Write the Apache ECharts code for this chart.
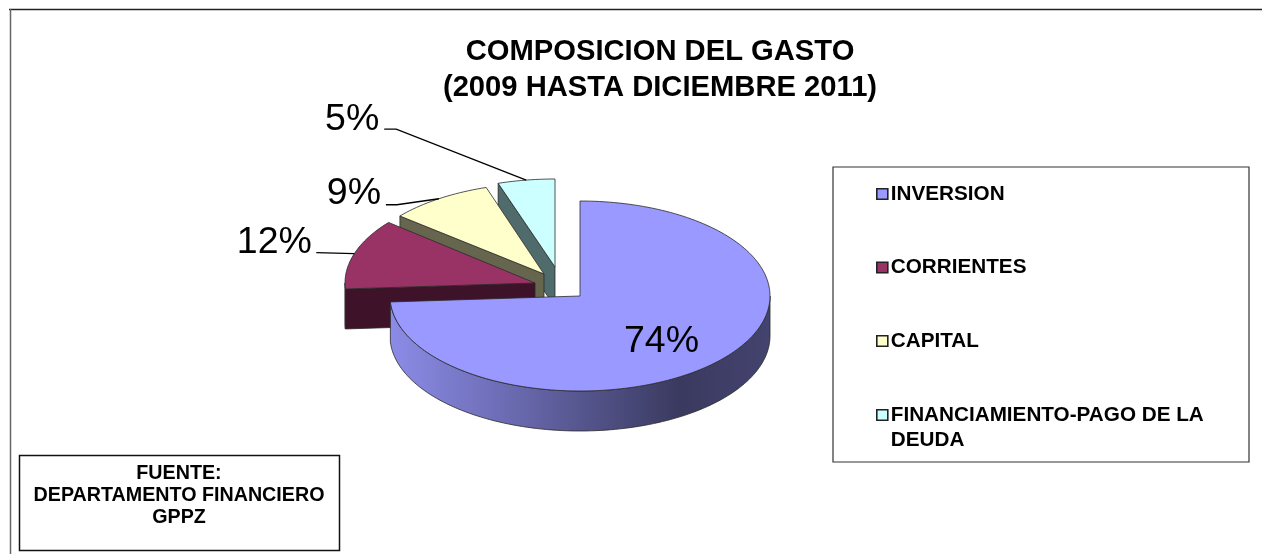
<!DOCTYPE html>
<html>
<head>
<meta charset="utf-8">
<title>Composicion del gasto</title>
<script src="https://cdn.jsdelivr.net/npm/echarts@6/dist/echarts.min.js"></script>
<style>
  html, body { margin: 0; padding: 0; background: #fff; }
  #chart { width: 1262px; height: 554px; }
</style>
</head>
<body>
<div id="chart"></div>
<script>
const categories = ['INVERSION', 'CORRIENTES', 'CAPITAL', 'FINANCIAMIENTO-PAGO DE LA DEUDA']
const shares = [74, 12, 9, 5]
const topColors = ['#9999ff', '#993366', '#ffffcc', '#ccffff']
const wallColors = ['#3c3c64', '#3e1229', '#66664f', '#506b6b']

// Where each exploded slice sits. Farther slices get a smaller ellipse, Excel's
// perspective does that.
const apexes = [[580, 296], [535, 283], [544, 274], [555, 267]]
const radiusX = [190, 190, 187, 184]
const radiusY = [95, 95, 91, 88]
const depth = 40

// Label centre and leader line, both relative to the point on the rim at mid-slice.
const labelShift = [[-57, -19], [-80, -11], [-85, -5], [-174, -60]]
const leaderShift = [null, [[-38, -1]], [[-53, 6], [-42, 6]], [[-142, -51], [-130, -51]]]

const FONT = '"Liberation Sans", Arial, sans-serif'
const total = shares.reduce((a, b) => a + b, 0)

function sliceAngles(i) {
  let before = 0
  for (let k = 0; k < i; k++) before += shares[k]
  return [before / total * 360, (before + shares[i]) / total * 360]
}

function rimPoint(i, deg, drop) {
  const rad = deg * Math.PI / 180
  return [
    apexes[i][0] + radiusX[i] * Math.sin(rad),
    apexes[i][1] - radiusY[i] * Math.cos(rad) + (drop || 0),
  ]
}

function arcPoints(i, from, to, drop) {
  const pts = []
  const steps = Math.max(2, Math.ceil((to - from) / 1.5))
  for (let s = 0; s <= steps; s++) pts.push(rimPoint(i, from + (to - from) * s / steps, drop))
  return pts
}

function renderSlice(i) {
  return function () {
    const [start, end] = sliceAngles(i)
    const apex = apexes[i]
    const children = []
    const edge = { stroke: '#2a2a2a', lineWidth: 0.8 }

    // cut face, only the exploded slices show theirs
    if (i > 0) {
      const corner = rimPoint(i, start)
      children.push({
        type: 'polygon',
        shape: { points: [corner, apex, [apex[0], apex[1] + depth], [corner[0], corner[1] + depth]] },
        style: { fill: wallColors[i], ...edge },
      })
    }

    // front rim
    const rimFrom = Math.max(start, 90)
    const rimTo = Math.min(end, 270)
    if (rimTo > rimFrom) {
      const fill = i === 0
        ? new echarts.graphic.LinearGradient(390, 0, 770, 0, [
            { offset: 0, color: '#8c8ce8' },
            { offset: 0.3, color: '#6c6cb4' },
            { offset: 0.5, color: '#56568f' },
            { offset: 0.76, color: '#3a3a60' },
            { offset: 1, color: '#43436f' },
          ], true)
        : wallColors[i]
      children.push({
        type: 'polygon',
        shape: { points: arcPoints(i, rimFrom, rimTo).concat(arcPoints(i, rimFrom, rimTo, depth).reverse()) },
        style: { fill, ...edge },
      })
    }

    // top face
    children.push({
      type: 'polygon',
      shape: { points: [apex].concat(arcPoints(i, start, end)) },
      style: { fill: topColors[i], ...edge },
    })

    const anchor = rimPoint(i, (start + end) / 2)
    if (leaderShift[i]) {
      const line = leaderShift[i].map((d) => [anchor[0] + d[0], anchor[1] + d[1]])
      line.push(anchor)
      children.push({
        type: 'polyline',
        shape: { points: line },
        style: { stroke: '#000', lineWidth: 1.3, fill: 'none' },
      })
    }
    children.push({
      type: 'text',
      style: {
        text: shares[i] + '%',
        x: anchor[0] + labelShift[i][0],
        y: anchor[1] + labelShift[i][1],
        align: 'center',
        verticalAlign: 'middle',
        fill: '#000',
        font: '37.5px ' + FONT,
      },
    })
    return { type: 'group', children }
  }
}

function boxRect(x, y, width, height, stroke, lineWidth) {
  return {
    type: 'rect',
    shape: { x, y, width, height },
    style: { fill: '#fff', stroke, lineWidth },
    z: 0,
  }
}

const legendBase = {
  orient: 'vertical',
  left: 876,
  padding: 0,
  itemWidth: 11,
  itemHeight: 10.5,
  icon: 'rect',
  selectedMode: false,
  itemStyle: { borderColor: '#222', borderWidth: 1.6 },
  textStyle: { fontFamily: FONT, fontSize: 20.7, fontWeight: 'bold', color: '#000', lineHeight: 25, padding: [0, 0, 0, -2] },
}

const chart = echarts.init(document.getElementById('chart'), null, { renderer: 'canvas' })

chart.setOption({
  animation: false,
  backgroundColor: '#fff',
  title: {
    text: 'COMPOSICION DEL GASTO\n(2009 HASTA DICIEMBRE 2011)',
    left: 655,
    top: 29,
    textAlign: 'center',
    textStyle: { fontFamily: FONT, fontSize: 29.2, fontWeight: 'bold', color: '#000', lineHeight: 36 },
  },
  legend: [
    { ...legendBase, top: 181.5, itemGap: 48.5, data: categories.slice(0, 3) },
    // the long entry wraps, the blank first line keeps its swatch level with the first row of text
    {
      ...legendBase,
      top: 377.5,
      data: categories.slice(3),
      formatter: (name) => '\n' + name.replace(' LA DEUDA', ' LA\nDEUDA'),
    },
  ],
  graphic: [
    { type: 'line', shape: { x1: 9, y1: 9.5, x2: 1262, y2: 9.5 }, style: { stroke: '#222', lineWidth: 1.4 } },
    { type: 'line', shape: { x1: 10.5, y1: 9, x2: 10.5, y2: 554 }, style: { stroke: '#666', lineWidth: 1.5 } },
    boxRect(833, 167, 416, 295, '#333', 1.2),
    boxRect(19.5, 455.5, 320, 95, '#111', 1.5),
    {
      type: 'text',
      z: 1,
      style: {
        text: 'FUENTE:\nDEPARTAMENTO FINANCIERO\nGPPZ',
        x: 179,
        y: 463,
        align: 'center',
        fill: '#000',
        font: 'bold 19.7px ' + FONT,
        lineHeight: 22,
      },
    },
  ],
  series: categories.map((name, i) => ({
    type: 'custom',
    name,
    coordinateSystem: 'none',
    silent: true,
    z: 5 - i,
    itemStyle: { color: topColors[i] },
    data: [[shares[i]]],
    renderItem: renderSlice(i),
  })),
})
</script>
</body>
</html>
